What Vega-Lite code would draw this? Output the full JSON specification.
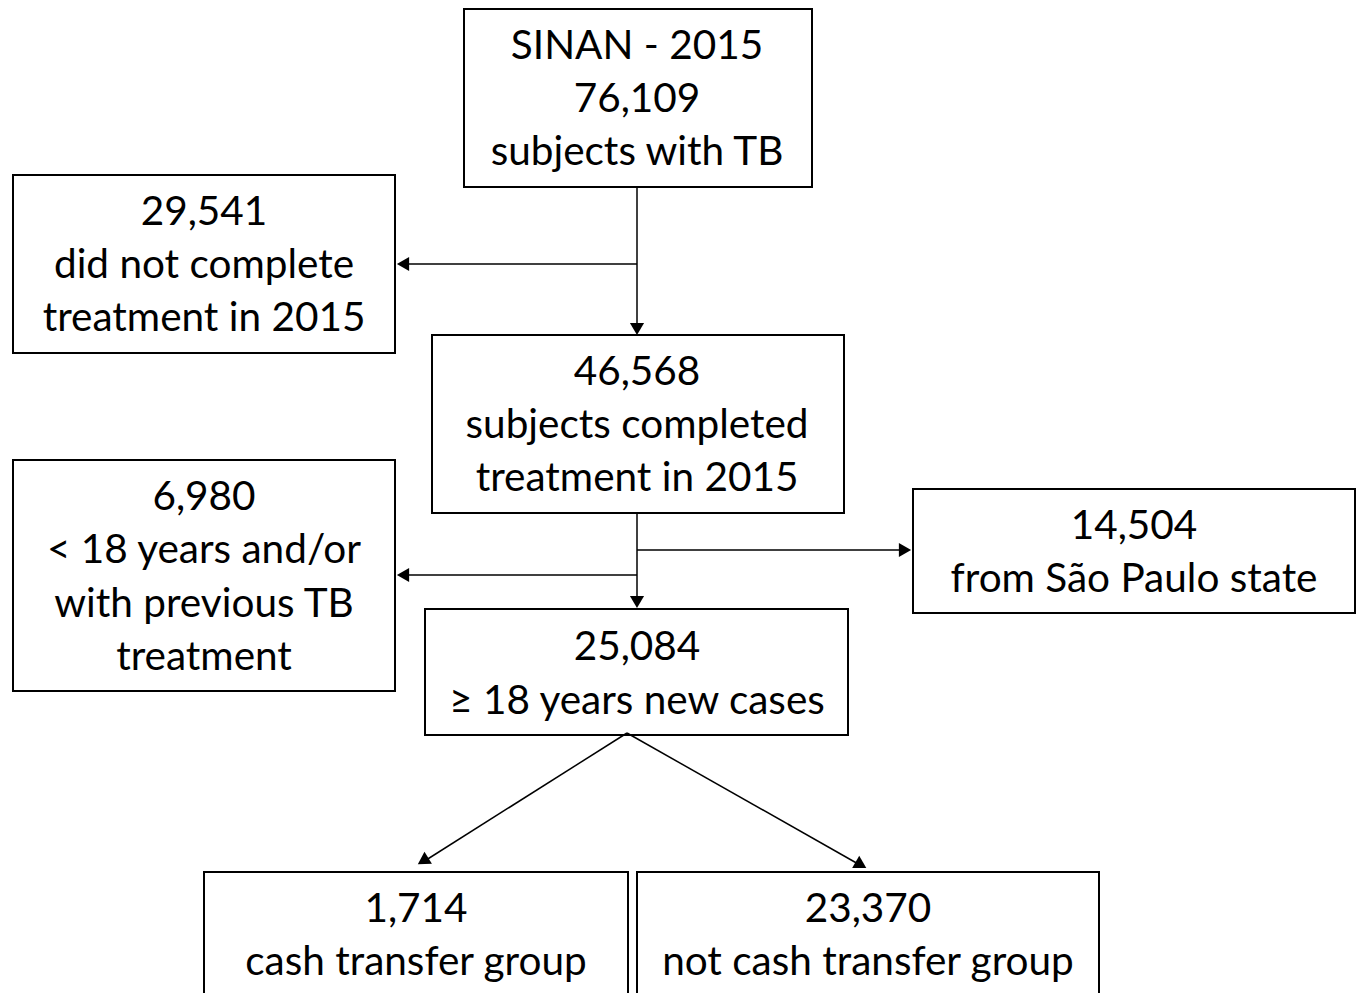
{
  "$schema": "https://vega.github.io/schema/vega-lite/v6.json",
  "width": 1357,
  "height": 993,
  "padding": 0,
  "autosize": "none",
  "background": "white",
  "config": {"view": {"stroke": null}},
  "datasets": {
    "boxes": [
      {"id": "top", "x1": 464, "x2": 812, "y1": 9, "y2": 187},
      {"id": "left1", "x1": 13, "x2": 395, "y1": 175, "y2": 353},
      {"id": "mid", "x1": 432, "x2": 844, "y1": 335, "y2": 513},
      {"id": "left2", "x1": 13, "x2": 395, "y1": 460, "y2": 691},
      {"id": "right", "x1": 913, "x2": 1355, "y1": 489, "y2": 613},
      {"id": "adult", "x1": 425, "x2": 848, "y1": 609, "y2": 735},
      {"id": "cash", "x1": 204, "x2": 628, "y1": 872, "y2": 1010},
      {"id": "nocash", "x1": 637, "x2": 1099, "y1": 872, "y2": 1010}
    ],
    "lines": [
      {"x1": 637, "y1": 187, "x2": 637, "y2": 329},
      {"x1": 637, "y1": 264, "x2": 403, "y2": 264},
      {"x1": 637, "y1": 513, "x2": 637, "y2": 602},
      {"x1": 637, "y1": 550, "x2": 905, "y2": 550},
      {"x1": 637, "y1": 575, "x2": 403, "y2": 575},
      {"x1": 627, "y1": 733, "x2": 423, "y2": 862},
      {"x1": 627, "y1": 733, "x2": 860, "y2": 865}
    ],
    "heads": [
      {"kind": "down", "x": 637, "y": 329},
      {"kind": "down", "x": 637, "y": 602},
      {"kind": "left", "x": 403, "y": 264},
      {"kind": "left", "x": 403, "y": 575},
      {"kind": "right", "x": 905, "y": 550},
      {"kind": "diagleft", "x": 423, "y": 861},
      {"kind": "diagright", "x": 861, "y": 865}
    ],
    "labels": [
      {"x": 637, "y": 47, "text": "SINAN - 2015"},
      {"x": 637, "y": 100, "text": "76,109"},
      {"x": 637, "y": 153, "text": "subjects with TB"},
      {"x": 204, "y": 213, "text": "29,541"},
      {"x": 204, "y": 266, "text": "did not complete"},
      {"x": 204, "y": 319, "text": "treatment in 2015"},
      {"x": 637, "y": 373, "text": "46,568"},
      {"x": 637, "y": 426, "text": "subjects completed"},
      {"x": 637, "y": 479, "text": "treatment in 2015"},
      {"x": 204, "y": 498, "text": "6,980"},
      {"x": 204, "y": 551, "text": "< 18 years and/or"},
      {"x": 204, "y": 605, "text": "with previous TB"},
      {"x": 204, "y": 658, "text": "treatment"},
      {"x": 1134, "y": 527, "text": "14,504"},
      {"x": 1134, "y": 580, "text": "from São Paulo state"},
      {"x": 637, "y": 648, "text": "25,084"},
      {"x": 637, "y": 702, "text": "≥ 18 years new cases"},
      {"x": 416, "y": 910, "text": "1,714"},
      {"x": 416, "y": 963, "text": "cash transfer group"},
      {"x": 868, "y": 910, "text": "23,370"},
      {"x": 868, "y": 963, "text": "not cash transfer group"}
    ]
  },
  "layer": [
    {
      "data": {"name": "boxes"},
      "mark": {"type": "rect", "fill": "white", "stroke": "black", "strokeWidth": 2, "clip": true},
      "encoding": {
        "x": {"field": "x1", "type": "quantitative", "scale": {"domain": [0, 1357], "nice": false, "zero": false}, "axis": null},
        "x2": {"field": "x2"},
        "y": {"field": "y1", "type": "quantitative", "scale": {"domain": [0, 993], "reverse": true, "nice": false, "zero": false}, "axis": null},
        "y2": {"field": "y2"}
      }
    },
    {
      "data": {"name": "lines"},
      "mark": {"type": "rule", "stroke": "black", "strokeWidth": 1.5},
      "encoding": {
        "x": {"field": "x1", "type": "quantitative"},
        "x2": {"field": "x2"},
        "y": {"field": "y1", "type": "quantitative"},
        "y2": {"field": "y2"}
      }
    },
    {
      "data": {"name": "heads"},
      "transform": [{"filter": "datum.kind === 'down'"}],
      "mark": {"type": "point", "shape": "triangle-down", "filled": true, "color": "black", "size": 200, "opacity": 1},
      "encoding": {"x": {"field": "x", "type": "quantitative"}, "y": {"field": "y", "type": "quantitative"}}
    },
    {
      "data": {"name": "heads"},
      "transform": [{"filter": "datum.kind === 'left'"}],
      "mark": {"type": "point", "shape": "triangle-left", "filled": true, "color": "black", "size": 200, "opacity": 1},
      "encoding": {"x": {"field": "x", "type": "quantitative"}, "y": {"field": "y", "type": "quantitative"}}
    },
    {
      "data": {"name": "heads"},
      "transform": [{"filter": "datum.kind === 'right'"}],
      "mark": {"type": "point", "shape": "triangle-right", "filled": true, "color": "black", "size": 200, "opacity": 1},
      "encoding": {"x": {"field": "x", "type": "quantitative"}, "y": {"field": "y", "type": "quantitative"}}
    },
    {
      "data": {"name": "heads"},
      "transform": [{"filter": "datum.kind === 'diagleft'"}],
      "mark": {"type": "point", "shape": "triangle-up", "filled": true, "color": "black", "size": 200, "opacity": 1, "angle": 238},
      "encoding": {"x": {"field": "x", "type": "quantitative"}, "y": {"field": "y", "type": "quantitative"}}
    },
    {
      "data": {"name": "heads"},
      "transform": [{"filter": "datum.kind === 'diagright'"}],
      "mark": {"type": "point", "shape": "triangle-up", "filled": true, "color": "black", "size": 200, "opacity": 1, "angle": 120},
      "encoding": {"x": {"field": "x", "type": "quantitative"}, "y": {"field": "y", "type": "quantitative"}}
    },
    {
      "data": {"name": "labels"},
      "mark": {"type": "text", "font": "Lato", "fontSize": 40.5, "color": "black", "align": "center", "baseline": "middle"},
      "encoding": {
        "x": {"field": "x", "type": "quantitative"},
        "y": {"field": "y", "type": "quantitative"},
        "text": {"field": "text", "type": "nominal"}
      }
    }
  ]
}
